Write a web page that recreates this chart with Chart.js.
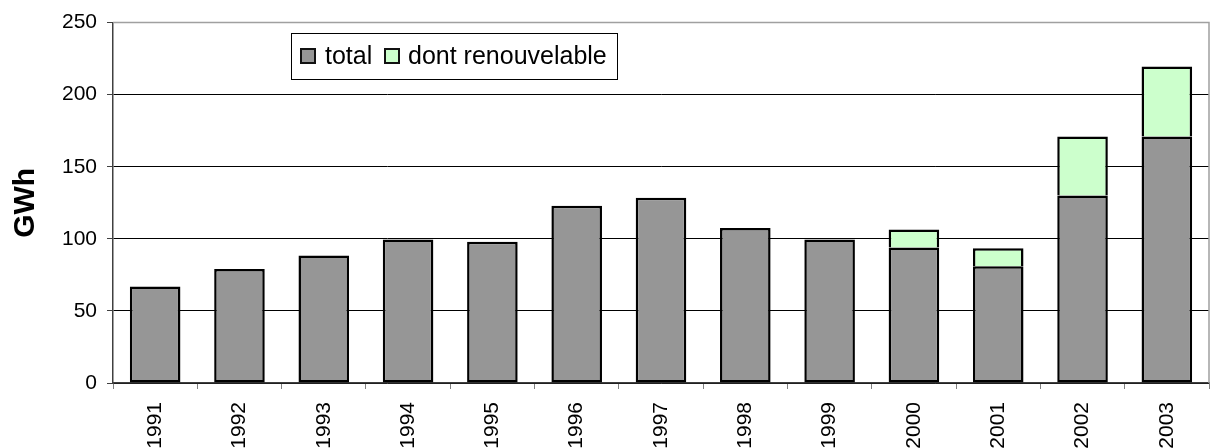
<!DOCTYPE html>
<html>
<head>
<meta charset="utf-8">
<script src="https://cdn.jsdelivr.net/npm/chart.js@4"></script>
<style>
  html, body { margin: 0; padding: 0; background: #fff; }
  #wrap { width: 1211px; height: 448px; position: relative; }
</style>
</head>
<body>
<div id="wrap"><canvas id="c" width="1211" height="448"></canvas></div>
<script>
// Annual production, GWh
const years = ['1991','1992','1993','1994','1995','1996','1997','1998','1999','2000','2001','2002','2003'];
// non-renewable part of the total (grey segment)
const totalBase = [67, 79, 88.5, 99.5, 98, 123, 128.5, 107.5, 99.5, 94, 81, 130, 171];
// renewable part stacked on top (green segment)
const renewable = [null, null, null, null, null, null, null, null, null, 12.5, 12.5, 41, 48.5];
const yTicks = [0, 50, 100, 150, 200, 250];
const seriesNames = ['total', 'dont renouvelable'];
const seriesColors = ['#969696', '#CCFFCC'];

const FONT = '"Liberation Sans", Arial, sans-serif';

// Legend box drawn inside the plot area
const boxLegend = {
  id: 'boxLegend',
  afterDraw(chart) {
    const ctx = chart.ctx;
    ctx.save();
    const x = 291.5, y = 33.5, w = 326, h = 46;
    ctx.fillStyle = '#fff';
    ctx.fillRect(x, y, w, h);
    ctx.strokeStyle = '#000';
    ctx.lineWidth = 1;
    ctx.strokeRect(x, y, w, h);
    ctx.font = '25px ' + FONT;
    ctx.textBaseline = 'middle';
    const items = [
      { sx: 301, tx: 325 },
      { sx: 385, tx: 408 }
    ];
    items.forEach((it, i) => {
      ctx.fillStyle = seriesColors[i];
      ctx.fillRect(it.sx, 49, 14, 14);
      ctx.lineWidth = 2;
      ctx.strokeStyle = '#111';
      ctx.strokeRect(it.sx, 49, 14, 14);
      ctx.fillStyle = '#000';
      ctx.fillText(seriesNames[i], it.tx, 57);
    });
    ctx.restore();
  }
};

// Grey frame on the top and right of the plot area
const frame = {
  id: 'frame',
  beforeDatasetsDraw(chart) {
    const { ctx, chartArea: a } = chart;
    ctx.save();
    ctx.strokeStyle = '#a0a0a0';
    ctx.lineWidth = 1.5;
    ctx.beginPath();
    ctx.moveTo(a.left, a.top);
    ctx.lineTo(a.right, a.top);
    ctx.lineTo(a.right, a.bottom);
    ctx.stroke();
    ctx.restore();
  }
};

new Chart(document.getElementById('c'), {
  type: 'bar',
  data: {
    labels: years,
    datasets: [
      {
        label: seriesNames[0],
        data: totalBase,
        backgroundColor: seriesColors[0],
        borderColor: '#000',
        borderWidth: 2.5,
        borderSkipped: false,
        stack: 's'
      },
      {
        label: seriesNames[1],
        data: renewable,
        backgroundColor: seriesColors[1],
        borderColor: '#000',
        borderWidth: { top: 2.5, left: 2.5, right: 2.5, bottom: 0 },
        borderSkipped: false,
        stack: 's'
      }
    ]
  },
  options: {
    responsive: false,
    animation: false,
    devicePixelRatio: 1,
    layout: { padding: { top: 21, right: 2, left: 0, bottom: 0 } },
    datasets: { bar: { categoryPercentage: 1.0, barPercentage: 0.6 } },
    plugins: {
      legend: { display: false },
      tooltip: { enabled: false }
    },
    scales: {
      x: {
        stacked: true,
        offset: true,
        grid: {
          offset: true,
          drawOnChartArea: false,
          drawTicks: true,
          tickLength: 6,
          color: '#808080'
        },
        border: { display: true, color: '#404040', width: 1.5 },
        ticks: {
          autoSkip: false,
          maxRotation: 90,
          minRotation: 90,
          padding: 13,
          color: '#000',
          font: { family: FONT, size: 21 }
        },
        afterFit(scale) { scale.height = 65; }
      },
      y: {
        stacked: true,
        min: 0,
        max: 250,
        afterBuildTicks(scale) { scale.ticks = yTicks.map(v => ({ value: v })); },
        grid: {
          color: ctx => (ctx.tick && ctx.tick.value === 250) ? 'rgba(0,0,0,0)' : '#000',
          lineWidth: 1,
          drawTicks: true,
          tickLength: 6,
          tickColor: '#404040'
        },
        border: { display: true, color: '#404040', width: 1.5 },
        ticks: {
          padding: 10,
          color: '#000',
          font: { family: FONT, size: 21 }
        },
        title: {
          display: true,
          text: 'GWh',
          color: '#000',
          padding: { top: 8, bottom: 0 },
          font: { family: FONT, size: 30, weight: 'bold' }
        },
        afterFit(scale) { scale.width = 113; }
      }
    }
  },
  plugins: [frame, boxLegend]
});
</script>
</body>
</html>
